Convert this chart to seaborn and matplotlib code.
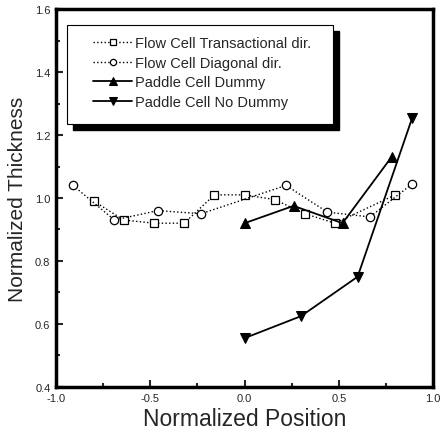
import matplotlib
matplotlib.use("Agg")
import matplotlib.pyplot as plt
from matplotlib.ticker import MultipleLocator
from matplotlib.patches import Rectangle
import seaborn as sns
import pandas as pd

sns.set_style("ticks")
plt.rcParams['font.family'] = ['Liberation Sans', 'DejaVu Sans']

# Data
trans_x = [-0.80, -0.64, -0.48, -0.32, -0.16, 0.00, 0.16, 0.32, 0.48, 0.80]
trans_y = [0.99, 0.93, 0.92, 0.92, 1.01, 1.01, 0.995, 0.95, 0.92, 1.01]

diag_x = [-0.91, -0.69, -0.46, -0.23, 0.22, 0.44, 0.665, 0.89]
diag_y = [1.04, 0.93, 0.96, 0.95, 1.04, 0.955, 0.94, 1.045]

dummy_x = [0.00, 0.26, 0.52, 0.78]
dummy_y = [0.92, 0.975, 0.92, 1.13]

nodummy_x = [0.00, 0.30, 0.60, 0.89]
nodummy_y = [0.555, 0.625, 0.75, 1.255]

labels = ["Flow Cell Transactional dir.", "Flow Cell Diagonal dir.",
          "Paddle Cell Dummy", "Paddle Cell No Dummy"]

x_ticks = [-1.0, -0.5, 0.0, 0.5, 1.0]
x_ticklabels = ['-1.0', '-0.5', '0.0', '0.5', '1.0']
y_ticks = [0.4, 0.6, 0.8, 1.0, 1.2, 1.4, 1.6]
y_ticklabels = ['0.4', '0.6', '0.8', '1.0', '1.2', '1.4', '1.6']

fig = plt.figure(figsize=(4.47, 4.39), dpi=100)
ax = fig.add_axes([0.1253, 0.1162, 0.8434, 0.861])

sns.lineplot(x=trans_x, y=trans_y, ax=ax, color='black', linestyle=':', lw=1.0,
             marker='s', markersize=6, markerfacecolor='white', markeredgecolor='black',
             markeredgewidth=0.9, label=labels[0])
sns.lineplot(x=diag_x, y=diag_y, ax=ax, color='black', linestyle=':', lw=1.0,
             marker='o', markersize=6, markerfacecolor='white', markeredgecolor='black',
             markeredgewidth=0.9, label=labels[1])
sns.lineplot(x=dummy_x, y=dummy_y, ax=ax, color='black', linestyle='-', lw=1.3,
             marker='^', markersize=7, markerfacecolor='black', markeredgecolor='black',
             label=labels[2])
sns.lineplot(x=nodummy_x, y=nodummy_y, ax=ax, color='black', linestyle='-', lw=1.3,
             marker='v', markersize=7, markerfacecolor='black', markeredgecolor='black',
             label=labels[3])

ax.set_xlim(-1.0, 1.0)
ax.set_ylim(0.4, 1.6)
ax.set_xticks(x_ticks)
ax.set_xticklabels(x_ticklabels)
ax.set_yticks(y_ticks)
ax.set_yticklabels(y_ticklabels)
ax.xaxis.set_minor_locator(MultipleLocator(0.25))
ax.yaxis.set_minor_locator(MultipleLocator(0.1))
ax.tick_params(which='both', direction='in', width=1.5, labelsize=8, pad=4)
ax.tick_params(which='major', length=5)
ax.tick_params(which='minor', length=3)
ax.tick_params(axis='y', which='both', left=True, right=False)
ax.tick_params(axis='x', which='both', bottom=True, top=False)
for s in ax.spines.values():
    s.set_linewidth(2.5)
    s.set_color('black')

ax.set_xlabel("Normalized Position", fontsize=16.5, labelpad=3)
ax.set_ylabel("Normalized Thickness", fontsize=15, labelpad=6)

# legend frame with solid drop shadow
x0, x1, y0, y1 = 0.029, 0.735, 0.696, 0.958
dx, dy = 0.016, 0.016
ax.add_patch(Rectangle((x0 + dx, y0 - dy), x1 - x0, y1 - y0, transform=ax.transAxes,
                       facecolor='black', edgecolor='black', zorder=5))
ax.add_patch(Rectangle((x0, y0), x1 - x0, y1 - y0, transform=ax.transAxes,
                       facecolor='white', edgecolor='black', lw=0.8, zorder=6))

leg = ax.legend(loc='upper left', bbox_to_anchor=(0.098, 0.928), fontsize=10.5,
                frameon=False, borderpad=0, borderaxespad=0,
                handlelength=2.7, handletextpad=0.2, labelspacing=0.38,
                markerscale=0.75)
leg.set_zorder(7)

fig.savefig("out.png", dpi=100)
